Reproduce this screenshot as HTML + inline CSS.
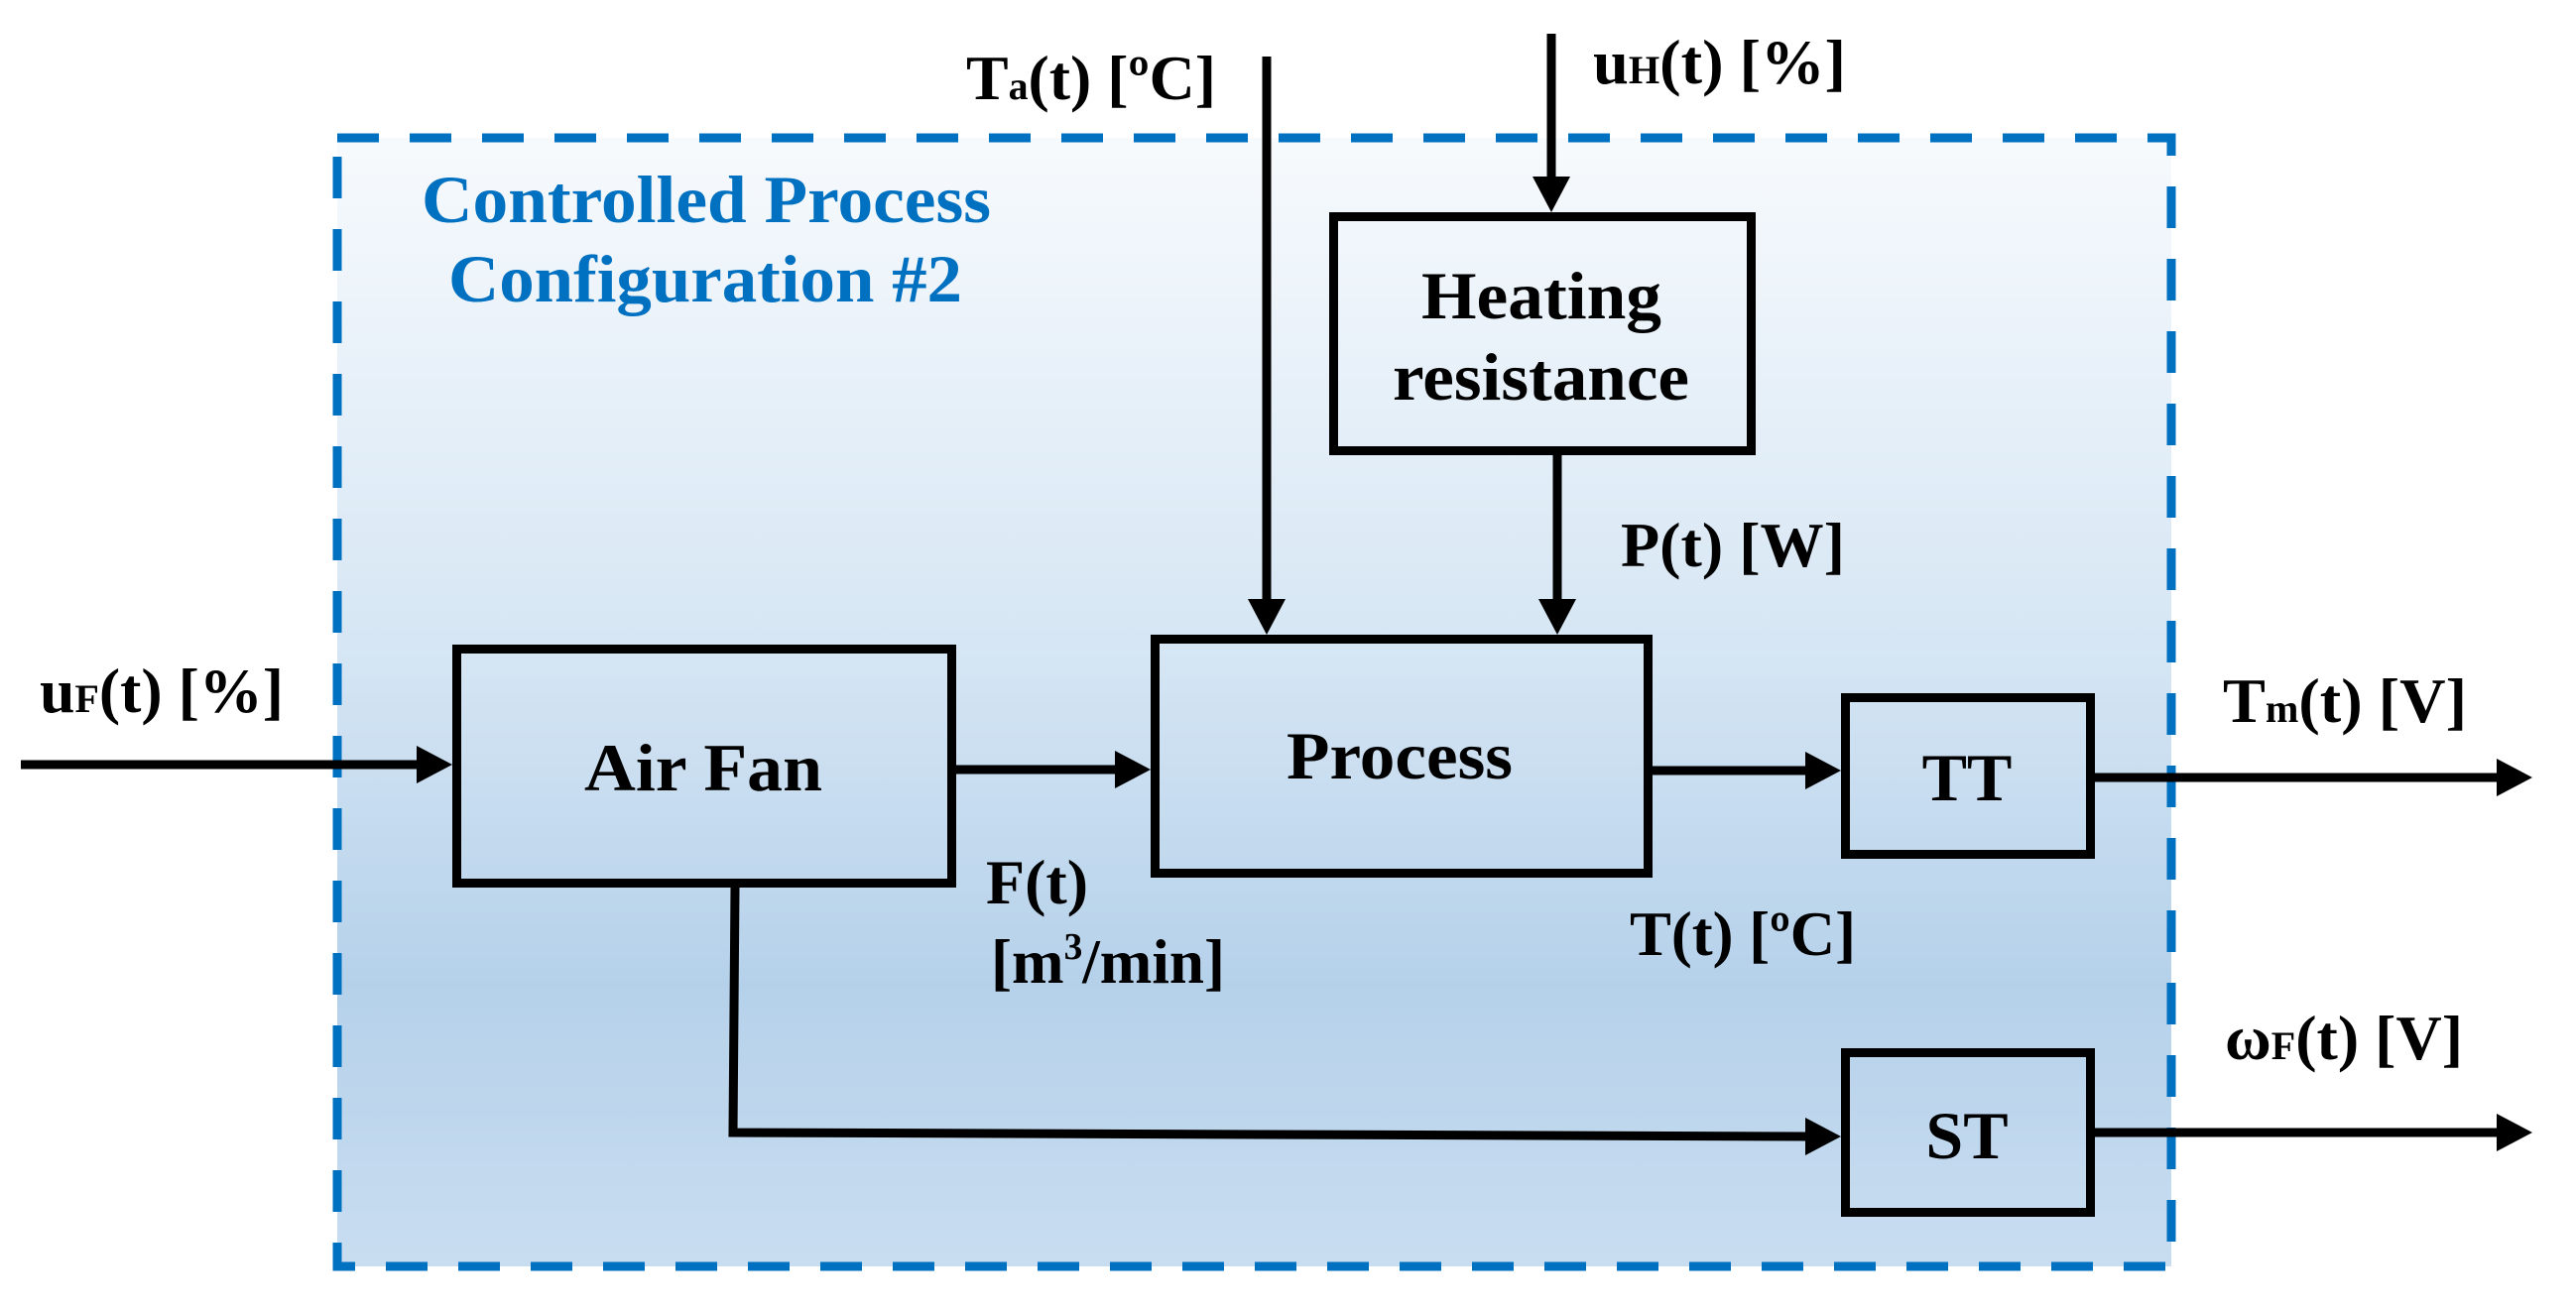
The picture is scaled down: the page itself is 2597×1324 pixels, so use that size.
<!DOCTYPE html>
<html><head><meta charset="utf-8"><style>
html,body{margin:0;padding:0;background:#fff}
svg{display:block}
text{font-family:"Liberation Serif",serif;font-weight:bold;fill:#000}
</style></head><body>
<svg width="2597" height="1324" viewBox="0 0 2597 1324" xmlns="http://www.w3.org/2000/svg">
<defs>
<linearGradient id="g" x1="0" y1="0" x2="0" y2="1">
<stop offset="0" stop-color="#f7fafd"/>
<stop offset="0.45" stop-color="#d6e6f4"/>
<stop offset="0.75" stop-color="#b5d1ea"/>
<stop offset="1" stop-color="#c9ddf0"/>
</linearGradient>
</defs>
<rect x="340" y="139" width="1849" height="1138" fill="url(#g)"/>
<rect x="340" y="139" width="1849" height="1138" fill="none" stroke="#0070c0" stroke-width="9" stroke-dasharray="42,31"/>

<text x="425" y="224" font-size="68" style="fill:#0070c0" textLength="574" lengthAdjust="spacingAndGlyphs">Controlled Process</text>
<text x="452" y="304" font-size="68" style="fill:#0070c0" textLength="518" lengthAdjust="spacingAndGlyphs">Configuration #2</text>

<g fill="none" stroke="#000" stroke-width="9">
<rect x="460.5" y="654.5" width="499" height="236"/>
<rect x="1164.5" y="644.5" width="497" height="236"/>
<rect x="1344.5" y="218.5" width="421" height="236"/>
<rect x="1860.5" y="703.5" width="247" height="158"/>
<rect x="1860.5" y="1061.5" width="247" height="161"/>
<line x1="21" y1="771" x2="425" y2="771"/>
<line x1="964" y1="776" x2="1125" y2="776"/>
<line x1="1277" y1="57" x2="1277" y2="606"/>
<line x1="1564" y1="34" x2="1564" y2="178"/>
<line x1="1570" y1="459" x2="1570" y2="606"/>
<line x1="1666" y1="777" x2="1822" y2="777"/>
<line x1="2112" y1="784" x2="2518" y2="784"/>
<polyline points="741,895 739,1142 1822,1146"/>
<line x1="2112" y1="1142" x2="2518" y2="1142"/>
</g>
<g fill="#000">
<polygon points="456,771 420,752 420,790"/>
<polygon points="1160,776 1124,757 1124,795"/>
<polygon points="1277,640 1258,604 1296,604"/>
<polygon points="1564,214 1545,178 1583,178"/>
<polygon points="1570,640 1551,604 1589,604"/>
<polygon points="1856,777 1820,758 1820,796"/>
<polygon points="2553,784 2517,765 2517,803"/>
<polygon points="1856,1146 1820,1127 1820,1165"/>
<polygon points="2553,1142 2517,1123 2517,1161"/>
</g>

<text x="589" y="797" font-size="68" textLength="240" lengthAdjust="spacingAndGlyphs">Air Fan</text>
<text x="1297" y="785" font-size="68" textLength="228" lengthAdjust="spacingAndGlyphs">Process</text>
<text x="1433" y="321" font-size="68" textLength="242" lengthAdjust="spacingAndGlyphs">Heating</text>
<text x="1404" y="403" font-size="68" textLength="299" lengthAdjust="spacingAndGlyphs">resistance</text>
<text x="1983" y="807" font-size="68" text-anchor="middle">TT</text>
<text x="1983" y="1168" font-size="68" text-anchor="middle">ST</text>

<text x="974" y="100" font-size="64" textLength="252" lengthAdjust="spacingAndGlyphs">T<tspan font-size="40">a</tspan>(t) [ºC]</text>
<text x="1606" y="84" font-size="64" textLength="255" lengthAdjust="spacingAndGlyphs">u<tspan font-size="40">H</tspan>(t) [%]</text>
<text x="40" y="718" font-size="64" textLength="246" lengthAdjust="spacingAndGlyphs">u<tspan font-size="40">F</tspan>(t) [%]</text>
<text x="1634" y="571" font-size="64" textLength="226" lengthAdjust="spacingAndGlyphs">P(t) [W]</text>
<text x="994" y="911" font-size="64">F(t)</text>
<text x="999" y="991" font-size="64" textLength="236" lengthAdjust="spacingAndGlyphs">[m<tspan font-size="38" dy="-24">3</tspan><tspan dy="24">/min]</tspan></text>
<text x="1643" y="963" font-size="64" textLength="228" lengthAdjust="spacingAndGlyphs">T(t) [ºC]</text>
<text x="2241" y="728" font-size="64" textLength="246" lengthAdjust="spacingAndGlyphs">T<tspan font-size="40">m</tspan>(t) [V]</text>
<text x="2243" y="1068" font-size="64" textLength="240" lengthAdjust="spacingAndGlyphs">ω<tspan font-size="40">F</tspan>(t) [V]</text>
</svg>
</body></html>
